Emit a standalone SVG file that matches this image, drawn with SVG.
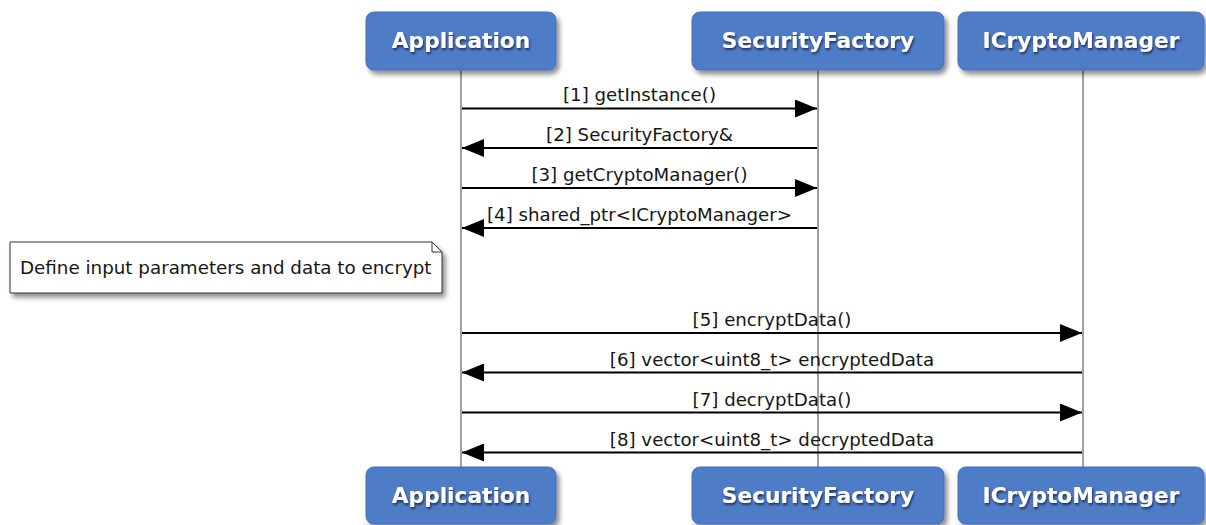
<svg xmlns="http://www.w3.org/2000/svg" width="1206" height="525" viewBox="0 0 1206 525">
  <defs>
    <filter id="boxShadow" x="-10%" y="-20%" width="130%" height="150%">
      <feDropShadow dx="3" dy="4" stdDeviation="2.5" flood-color="#000" flood-opacity="0.45"/>
    </filter>
    <filter id="textShadow" x="-10%" y="-30%" width="120%" height="170%">
      <feDropShadow dx="1" dy="2" stdDeviation="1.2" flood-color="#1a2a50" flood-opacity="0.9"/>
    </filter>
    <marker id="head" markerUnits="userSpaceOnUse" markerWidth="22" markerHeight="18" viewBox="0 0 22 18" refX="22" refY="9" orient="auto">
      <path d="M0,0 L22,9 L0,18 Z" fill="#000"/>
    </marker>
  </defs>
  <style>
    .box { fill: #4f7bc6; stroke: #4670b8; stroke-width: 1; filter: url(#boxShadow); }
    .title { font-family: "DejaVu Sans", sans-serif; font-weight: bold; font-size: 21.7px; fill: #ffffff; text-anchor: middle; filter: url(#textShadow); }
    .life { stroke: #a0a0a0; stroke-width: 2; fill: none; }
    .msg { stroke: #000; stroke-width: 2; fill: none; marker-end: url(#head); }
    .lbl { font-family: "DejaVu Sans", sans-serif; font-size: 18.2px; fill: #161616; text-anchor: middle; }
    .note { fill: #ffffff; stroke: #333; stroke-width: 1; filter: url(#boxShadow); }
    .ntext { font-family: "DejaVu Sans", sans-serif; font-size: 18.3px; fill: #161616; }
  </style>
  <rect width="1206" height="525" fill="#ffffff"/>

  <g id="lifelines">
    <line class="life" x1="461" y1="70" x2="461" y2="467"/>
    <line class="life" x1="818" y1="70" x2="818" y2="467"/>
    <line class="life" x1="1083" y1="70" x2="1083" y2="467"/>
  </g>

  <g id="app-top">
    <rect class="box" x="366" y="12" width="190" height="58" rx="8"/>
    <text class="title" x="461" y="48">Application</text>
  </g>
  <g id="factory-top">
    <rect class="box" x="692" y="12" width="252" height="58" rx="8"/>
    <text class="title" x="818" y="48">SecurityFactory</text>
  </g>
  <g id="crypto-top">
    <rect class="box" x="958" y="12" width="246" height="58" rx="8"/>
    <text class="title" x="1081" y="48">ICryptoManager</text>
  </g>

  <g id="app-bottom">
    <rect class="box" x="366" y="467" width="190" height="57" rx="8"/>
    <text class="title" x="461" y="503">Application</text>
  </g>
  <g id="factory-bottom">
    <rect class="box" x="692" y="467" width="252" height="57" rx="8"/>
    <text class="title" x="818" y="503">SecurityFactory</text>
  </g>
  <g id="crypto-bottom">
    <rect class="box" x="958" y="467" width="246" height="57" rx="8"/>
    <text class="title" x="1081" y="503">ICryptoManager</text>
  </g>

  <g id="note">
    <path class="note" d="M10,242 L432,242 L442,252 L442,293 L10,293 Z"/>
    <path d="M432,242 L432,252 L442,252" fill="none" stroke="#333" stroke-width="1"/>
    <text class="ntext" x="20" y="274">Define input parameters and data to encrypt</text>
  </g>

  <g id="connectors">
    <line class="msg" x1="462" y1="108.5" x2="817" y2="108.5"/>
    <text class="lbl" x="639.5" y="101">[1] getInstance()</text>
    <line class="msg" x1="817" y1="148" x2="462" y2="148"/>
    <text class="lbl" x="639.5" y="141">[2] SecurityFactory&amp;</text>
    <line class="msg" x1="462" y1="188" x2="817" y2="188"/>
    <text class="lbl" x="639.5" y="181">[3] getCryptoManager()</text>
    <line class="msg" x1="817" y1="228" x2="462" y2="228"/>
    <text class="lbl" x="639.5" y="221">[4] shared_ptr&lt;ICryptoManager&gt;</text>
    <line class="msg" x1="462" y1="333" x2="1082" y2="333"/>
    <text class="lbl" x="772" y="326">[5] encryptData()</text>
    <line class="msg" x1="1082" y1="372.5" x2="462" y2="372.5"/>
    <text class="lbl" x="772" y="365.5">[6] vector&lt;uint8_t&gt; encryptedData</text>
    <line class="msg" x1="462" y1="412.5" x2="1082" y2="412.5"/>
    <text class="lbl" x="772" y="405.5">[7] decryptData()</text>
    <line class="msg" x1="1082" y1="452.5" x2="462" y2="452.5"/>
    <text class="lbl" x="772" y="445.5">[8] vector&lt;uint8_t&gt; decryptedData</text>
  </g>
</svg>
